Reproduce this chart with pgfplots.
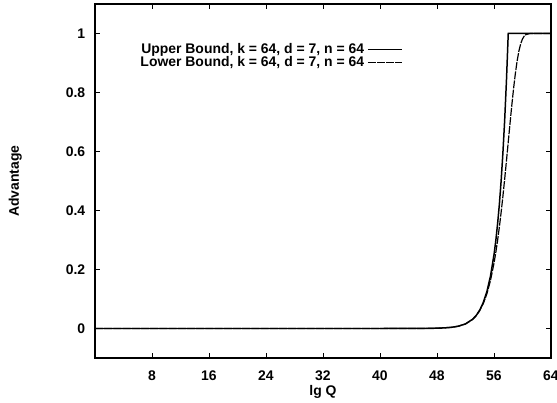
\documentclass[border=0pt]{standalone}
\usepackage{fontspec}
\setmainfont{Liberation Sans}
\usepackage{pgfplots}
\pgfplotsset{compat=1.18}

\begin{document}
\fontsize{14}{15}\selectfont\bfseries
\begin{tikzpicture}
% page = 557 x 403 bp, axis box 456 x 354 bp at the origin
\path[use as bounding box] (-95bp,-45bp) rectangle (462bp,358bp);
\begin{axis}[
  scale only axis,
  width=456bp, height=354bp,
  xmin=0, xmax=64, ymin=-0.1, ymax=1.1,
  xtick={8,16,24,32,40,48,56,64},
  ytick={0,0.2,0.4,0.6,0.8,1},
  yticklabels={0,0.2,0.4,0.6,0.8,1},
  /pgf/number format/assume math mode=true,
  tick align=inside, major tick length=5bp,
  tick style={black, line width=0.9pt},
  axis line style={black, line width=1.3pt},
  xticklabel style={yshift=-8bp, text depth=0pt},
  yticklabel style={xshift=-5bp},
  xlabel={lg Q},
  xlabel style={at={(axis description cs:0.5,-0.077)}, anchor=north, inner sep=0pt},
  ylabel={Advantage},
  ylabel style={at={(axis description cs:-0.175,0.5)}, anchor=center},
  legend style={draw=none, fill=none, at={(rel axis cs:0.675,0.89)}, anchor=north east,
    inner sep=0pt, row sep=0pt,
    nodes={inner xsep=3bp, inner ysep=0pt, text height=10bp, text depth=3bp}},
  legend cell align=right,
  legend plot pos=right,
  legend image code/.code={\draw[#1] (0bp,0bp) -- (34bp,0bp);},
]
\addplot[black, line width=1.5pt] coordinates {
  (0,0) (40,0.000004) (44,0.00006) (46,0.00024) (48,0.001) (49,0.002) (50,0.0039)
  (51,0.0078) (52,0.0156) (53,0.0313) (53.5,0.0442) (54,0.0625) (54.5,0.0884)
  (55,0.125) (55.5,0.177) (56,0.25) (56.25,0.297) (56.5,0.354) (56.75,0.420)
  (57,0.5) (57.25,0.595) (57.5,0.707) (57.75,0.841) (58,1) (64,1)
};
\addlegendentry{Upper Bound, k = 64, d = 7, n = 64}
\addplot[black, line width=1.2pt, dash pattern=on 8bp off 1.2bp] coordinates {
  (0,0) (40,0.000004) (44,0.00006) (46,0.00024) (48,0.00098) (50,0.0039)
  (51,0.0078) (52,0.0155) (53,0.0308) (53.5,0.0432) (54,0.0606) (54.5,0.0846)
  (55,0.1175) (55.5,0.162) (56,0.2212) (56.25,0.2572) (56.5,0.2978) (56.75,0.3432)
  (57,0.3935) (57.25,0.4482) (57.5,0.5069) (57.75,0.5687) (58,0.6321)
  (58.25,0.6956) (58.5,0.7569) (58.75,0.8140) (59,0.8647) (59.25,0.9073)
  (59.5,0.9409) (59.75,0.9654) (60,0.9817) (60.25,0.9914) (60.5,0.9965)
  (61,0.9997) (62,1) (64,1)
};
\addlegendentry{Lower Bound, k = 64, d = 7, n = 64}
\end{axis}
\end{tikzpicture}
\end{document}
